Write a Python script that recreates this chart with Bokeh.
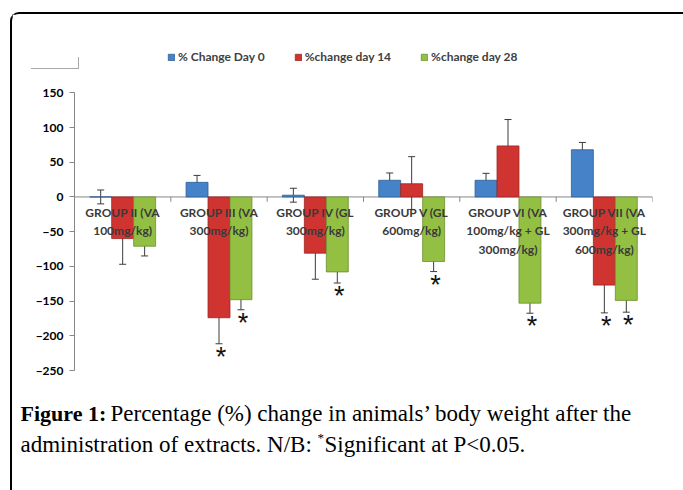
from bokeh.plotting import figure
from bokeh.layouts import column
from bokeh.models import (ColumnDataSource, FactorRange, Range1d, Whisker, TeeHead,
                          Span, Legend, LegendItem, Label, FixedTicker, InlineStyleSheet)
from bokeh.transform import dodge
from bokeh.core.properties import value
from bokeh.embed import file_html
from bokeh.resources import INLINE

# ---------------- data ----------------
categories = ["GROUP II", "GROUP III", "GROUP IV", "GROUP V", "GROUP VI", "GROUP VII"]
category_labels = [
    "GROUP II (VA\n100mg/kg)",
    "GROUP III (VA\n300mg/kg)",
    "GROUP IV (GL\n300mg/kg)",
    "GROUP V (GL\n600mg/kg)",
    "GROUP VI (VA\n100mg/kg + GL\n300mg/kg)",
    "GROUP VII (VA\n300mg/kg + GL\n600mg/kg)",
]
series_names = ["% Change Day 0", "%change day 14", "%change day 28"]
day0 = [0, 21, 2.5, 24, 24, 68]
day0_err = [10, 10, 10, 10.5, 10, 10.5]
day14 = [-60, -174, -81, 19, 73.5, -127]
day14_err_minus = [37, 37.5, 37.5, 37, 38, 40]
day14_err_plus = [37, 37.5, 37.5, 39, 38, 77.5]
day28 = [-71, -148, -108, -93, -153, -149]
day28_err = [14, 14.5, 16, 14.5, 14.5, 17]
sig_day14 = [False, True, False, False, False, True]
sig_day28 = [False, True, True, True, True, True]
y_ticks = [-250, -200, -150, -100, -50, 0, 50, 100, 150]
caption_bold = "Figure 1:"
caption_line1 = "Percentage (%) change in animals’ body weight after the"
caption_line2a = "administration of extracts. N/B:"
caption_sup = "*"
caption_line2b = "Significant at P<0.05."

# ---------------- layout / styles ----------------
W = 671            # width of the inner panels (page frame line sits left of them)
H_CHART = 366
H_CAP = 110
AX_MIN, AX_MAX = y_ticks[0], y_ticks[-1]
PX_PER_UNIT = 0.69425
PAD_TOP_PX = 78.3      # frame top to the "150" tick
PAD_BOTTOM_PX = 10     # "-250" tick to frame bottom
colors = ["#4682c8", "#cf3431", "#93c043"]
edge_colors = ["#2f5f97", "#9a2422", "#6a8f2c"]
bar_w = 0.228
offsets = [-0.228, 0.0, 0.228]
err_color = "#3c3c3c"
axis_gray = "#868686"

src = ColumnDataSource(dict(
    cat=categories,
    label=category_labels,
    d0=day0,
    d0_u=[v + e for v, e in zip(day0, day0_err)],
    d0_l=[v - e for v, e in zip(day0, day0_err)],
    d14=day14,
    d14_u=[v + e for v, e in zip(day14, day14_err_plus)],
    d14_l=[v - e for v, e in zip(day14, day14_err_minus)],
    d28=day28,
    d28_u=[v + e for v, e in zip(day28, day28_err)],
    d28_l=[v - e for v, e in zip(day28, day28_err)],
))

y_range = Range1d(AX_MIN - PAD_BOTTOM_PX / PX_PER_UNIT, AX_MAX + PAD_TOP_PX / PX_PER_UNIT)
p = figure(x_range=FactorRange(*categories), y_range=y_range,
           width=W, height=H_CHART,
           min_border_left=62, min_border_right=31, min_border_top=0, min_border_bottom=0,
           output_backend="svg", toolbar_location=None)
p.frame_align = False
p.outline_line_color = None
p.xgrid.visible = False
p.ygrid.visible = False
p.xaxis.visible = False
p.background_fill_color = "white"
p.border_fill_color = "white"

ya = p.yaxis[0]
ya.ticker = FixedTicker(ticks=y_ticks)
ya.bounds = (AX_MIN, AX_MAX)
ya.axis_line_color = axis_gray
ya.major_tick_line_color = axis_gray
ya.major_tick_out = 5
ya.major_tick_in = 0
ya.minor_tick_out = 0
ya.minor_tick_in = 0
ya.major_label_standoff = 6
ya.major_label_text_font = "Lato"
ya.major_label_text_font_size = "12px"
ya.major_label_text_font_style = "bold"
ya.major_label_text_color = "#000000"

# zero (category) axis line with tick marks at the category boundaries
p.add_layout(Span(location=0, dimension="width", line_color=axis_gray, line_width=1, level="underlay"))
bounds = list(range(1, len(categories) + 1))
p.segment(x0=bounds, x1=bounds, y0=[0] * len(bounds), y1=[-7] * len(bounds),
          line_color=axis_gray, line_width=1)

renderers = []
for i, col in enumerate(["d0", "d14", "d28"]):
    r = p.vbar(x=dodge("cat", offsets[i], range=p.x_range), top=col, bottom=0, width=bar_w,
               source=src, fill_color=colors[i], line_color=edge_colors[i], line_width=0.8)
    renderers.append(r)

# category labels over the bars
p.text(x="cat", y=0, text="label", source=src, text_font=value("Lato"),
       text_font_size="12px", text_font_style="bold", text_color="#3a3a3a",
       text_align="center", text_baseline="top", y_offset=8, text_line_height=1.22)

for i, col in enumerate(["d0", "d14", "d28"]):
    w = Whisker(base=dodge("cat", offsets[i], range=p.x_range), upper=col + "_u", lower=col + "_l",
                source=src, line_color=err_color, line_width=1,
                upper_head=TeeHead(size=7, line_color=err_color, line_width=1),
                lower_head=TeeHead(size=7, line_color=err_color, line_width=1))
    p.add_layout(w)

# significance asterisks below the lower whiskers
for sig, lows, off in [(sig_day14, src.data["d14_l"], offsets[1]),
                       (sig_day28, src.data["d28_l"], offsets[2])]:
    s_src = ColumnDataSource(dict(
        cat=[c for c, s in zip(categories, sig) if s],
        y=[lo for lo, s in zip(lows, sig) if s]))
    p.text(x=dodge("cat", off + 0.02, range=p.x_range), y="y", text=value("*"), source=s_src,
           text_font=value("Liberation Sans"), text_font_size="27px", text_color="#111111",
           text_align="center", text_baseline="top", y_offset=-2)

# legend (inside the frame, above the plotted values)
legend = Legend(items=[LegendItem(label=series_names[i], renderers=[renderers[i]]) for i in range(3)],
                orientation="horizontal", location=(93, 316),
                glyph_width=8, glyph_height=8, label_standoff=3, spacing=29,
                padding=0, margin=0, border_line_color=None, background_fill_alpha=0,
                label_text_font="Lato", label_text_font_size="12px",
                label_text_font_style="bold", label_text_color="#404040")
p.add_layout(legend)

# ---------------- caption panel ----------------
cap = figure(width=W, height=H_CAP, x_range=Range1d(0, W), y_range=Range1d(0, H_CAP),
             min_border_left=0, min_border_right=0, min_border_top=0, min_border_bottom=0,
             x_axis_type=None, y_axis_type=None, output_backend="svg", toolbar_location=None)
cap.frame_align = False
cap.outline_line_color = None
cap.xgrid.visible = False
cap.ygrid.visible = False
cap.background_fill_color = "white"
cap.border_fill_color = "white"
cap_font = "Liberation Serif"
common = dict(x_units="screen", y_units="screen", text_font=cap_font, text_baseline="middle",
              text_align="left", text_color="black")
cap.add_layout(Label(x=8, y=77, text=caption_bold, text_font_size="22px",
                     text_font_style="bold", **common))
cap.add_layout(Label(x=98, y=77, text=caption_line1, text_font_size="23px", **common))
cap.add_layout(Label(x=8, y=46, text=caption_line2a, text_font_size="23px", **common))
cap.add_layout(Label(x=305, y=53, text=caption_sup, text_font_size="13px", **common))
cap.add_layout(Label(x=312, y=46, text=caption_line2b, text_font_size="23px", **common))

# small grey corner mark at the top left of the page (decoration seen in the original)
corner_css = InlineStyleSheet(css="""
:host::after {
  content: "";
  position: absolute;
  left: 19px; top: 43px; width: 47px; height: 11px;
  border-right: 1px solid #a8a8a8; border-bottom: 1px solid #a8a8a8;
  z-index: 20; pointer-events: none;
}
""")

root = column(p, cap, spacing=0, stylesheets=[corner_css],
              styles={"margin-left": "10px", "margin-top": "12px",
                      "border-left": "2px solid black", "border-top": "2px solid black",
                      "border-top-left-radius": "9px", "background": "white",
                      "position": "relative"})

open("out.html", "w").write(file_html(root, INLINE))
